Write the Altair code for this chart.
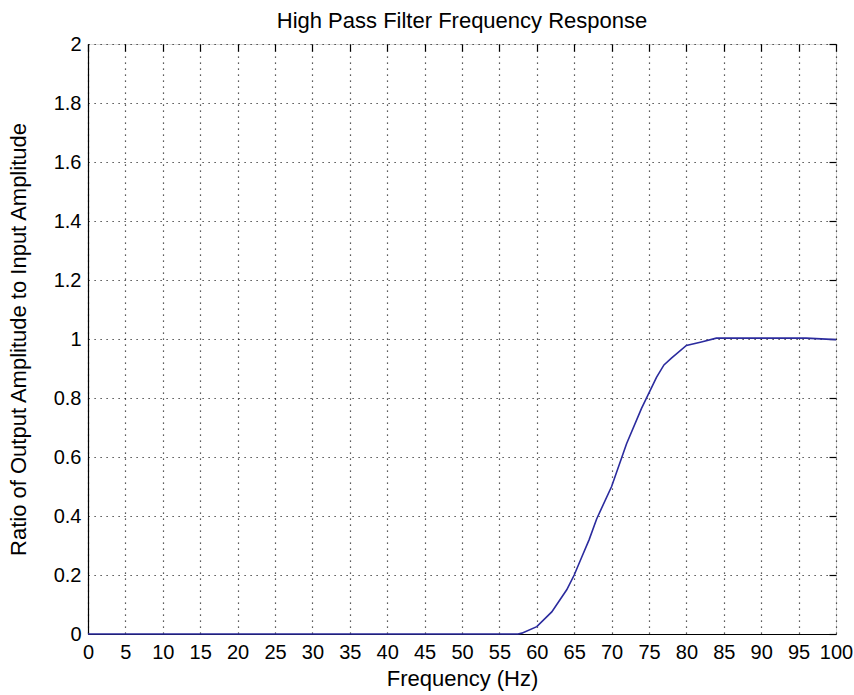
import altair as alt
import pandas as pd

# Frequency (Hz) and amplitude ratio
freq = [0, 57.5, 58, 60, 62, 64, 65, 66, 67, 68, 70, 72, 74, 76, 77, 78, 80, 82, 84, 90, 96, 100]
ratio = [0, 0, 0.003, 0.025, 0.075, 0.15, 0.2, 0.26, 0.32, 0.39, 0.5, 0.645, 0.765, 0.87,
         0.912, 0.935, 0.978, 0.99, 1.003, 1.003, 1.003, 0.998]

x_ticks = list(range(0, 101, 5))
y_ticks = [0, 0.2, 0.4, 0.6, 0.8, 1, 1.2, 1.4, 1.6, 1.8, 2]

title_text = "High Pass Filter Frequency Response"
x_title = "Frequency (Hz)"
y_title = "Ratio of Output Amplitude to Input Amplitude"

df = pd.DataFrame({"f": freq, "r": ratio})

FONT = "Liberation Sans"
GRID = dict(grid=True, gridDash=[1.2, 4.8], gridColor="#000000", gridWidth=1.2, gridOpacity=0.85)

xs = alt.Scale(domain=[0, 100], nice=False, zero=False)
ys = alt.Scale(domain=[0, 2], nice=False)

main = alt.Chart(df).mark_line(color="#2b2b9e", strokeWidth=1.6).encode(
    x=alt.X("f:Q", scale=xs, axis=alt.Axis(
        values=x_ticks, title=x_title, ticks=False, tickSize=0,
        domainColor="#000000", domainWidth=1.2,
        labelFont=FONT, labelFontSize=20, labelColor="#000000", labelPadding=8,
        titleFont=FONT, titleFontSize=22, titleFontWeight="normal", titleColor="#000000",
        titlePadding=6, labelFlush=False, labelOverlap=False, **GRID)),
    y=alt.Y("r:Q", scale=ys, axis=alt.Axis(
        values=y_ticks, title=y_title, ticks=False, tickSize=0, format="~g",
        domainColor="#000000", domainWidth=1.2,
        labelFont=FONT, labelFontSize=20, labelColor="#000000", labelPadding=7,
        titleFont=FONT, titleFontSize=22, titleFontWeight="normal", titleColor="#000000",
        titlePadding=23, labelFlush=False, labelOverlap=False, **GRID)),
)

tick_layer = alt.Chart(df).mark_line(strokeOpacity=0).encode(
    x=alt.X("f:Q", scale=xs, axis=alt.Axis(
        values=x_ticks, labels=False, title="", domain=False, grid=False,
        ticks=True, tickSize=7, tickColor="#000000", tickWidth=1.2, offset=-7)),
    y=alt.Y("r:Q", scale=ys, axis=alt.Axis(
        values=y_ticks, labels=False, title="", domain=False, grid=False,
        ticks=True, tickSize=7, tickColor="#000000", tickWidth=1.2, offset=-7)),
)

chart = alt.layer(main, tick_layer).resolve_scale(
    x="independent", y="independent"
).properties(
    width=748, height=590,
    title=alt.TitleParams(title_text, font=FONT, fontSize=22, fontWeight="normal",
                          color="#000000", offset=1, anchor="middle"),
    padding={"left": 88, "top": 44, "right": 18, "bottom": 61},
    autosize=alt.AutoSizeParams(type="none"),
).configure_view(stroke=None).configure(background="#ffffff")

chart.save("out.html", embed_options={"renderer": "svg", "actions": False})
